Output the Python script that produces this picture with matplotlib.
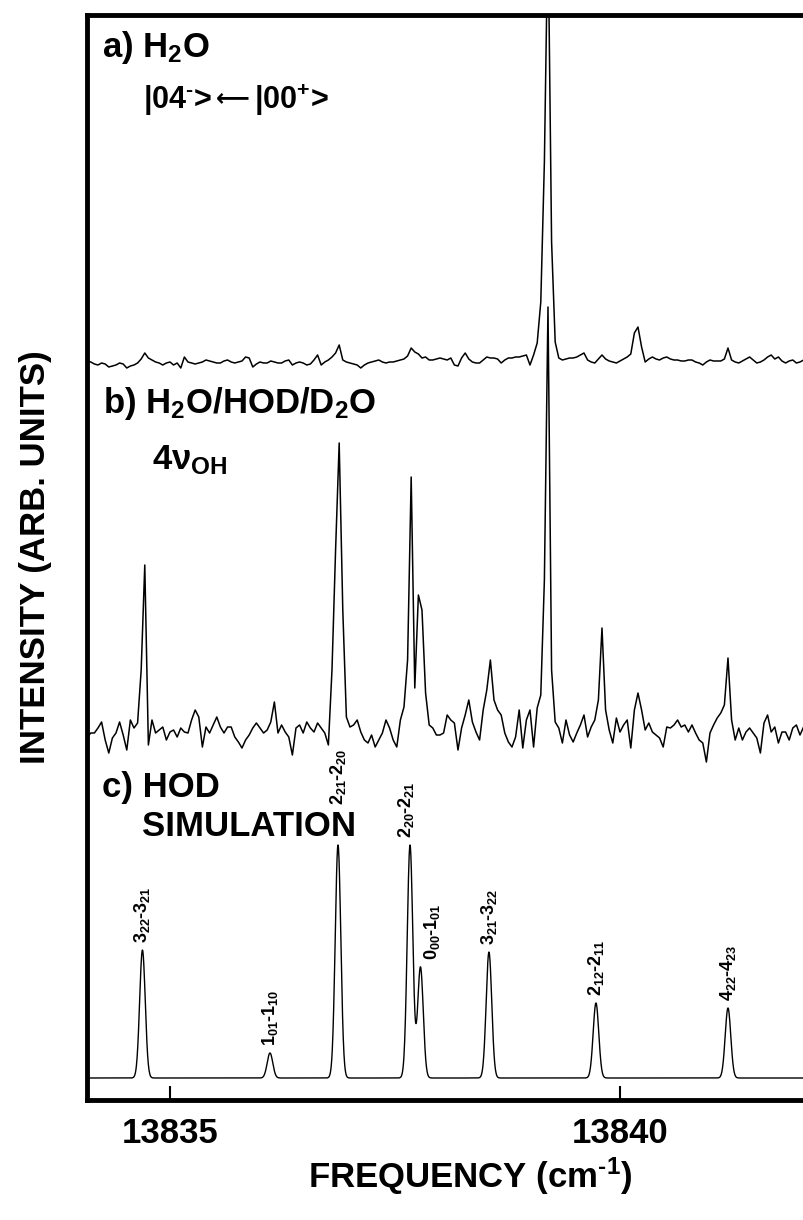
import numpy as np
import matplotlib.pyplot as plt

plt.rcParams['font.family'] = ['Liberation Sans', 'DejaVu Sans']
plt.rcParams['font.weight'] = 'bold'
plt.rcParams['mathtext.fontset'] = 'custom'
plt.rcParams['mathtext.rm'] = 'Liberation Sans:bold'
plt.rcParams['mathtext.it'] = 'Liberation Sans:bold'
plt.rcParams['mathtext.bf'] = 'Liberation Sans:bold'

# scan grid of the recorded spectra (cm-1)
scan_start = 13834.08
scan_step = 0.04

# a) pure H2O, |04-> <- |00+> band (arb. units above baseline)
h2o_signal = [
    1, 0, -2, -3, -1, -2, -5, -4, -3, -1, -2, -6, -4, -3, -1, 3, 9, 4, 2, 0,
    -1, -3, -1, 0, -3, -1, -6, 5, 0, -1, -2, -1, 0, 2, 1, 0, -1, -1, 1, 2,
    0, -1, 0, 1, 5, 4, -5, -2, 0, -1, -1, 1, 0, -1, -1, 1, 2, -3, -1, 0,
    -1, -3, -2, 2, 7, -3, 0, 2, 5, 9, 17, 2, 0, -1, -2, -3, -6, -3, -1, 0,
    1, 2, 0, -1, 0, 0, 1, 2, 3, 6, 14, 10, 8, 4, 5, 2, 2, 3, 4, 3,
    2, 4, -3, -4, 4, 9, 3, 0, -1, -1, 2, 5, 4, 4, 3, -1, 2, 4, 4, 5,
    5, 6, 7, -3, 7, 19, 60, 200, 440, 120, 20, 4, 2, 3, 4, 4, 5, 7, 9, 2,
    0, -1, 3, 7, 3, 1, 0, -1, 1, 3, 5, 8, 29, 35, 15, 0, 3, 5, 3, 2,
    4, 5, 3, 2, 2, 1, 1, 2, 2, 0, -1, -3, 0, 2, 1, 1, 1, 3, 14, 2,
    0, -1, 1, 3, 5, 2, -1, 0, 2, 5, 7, 3, 5, 1, -1, 1, 2, -1, 0, 2,
]

# b) H2O/HOD/D2O mixture, 4 nu_OH region
mix_signal = [
    -7, -3, -3, 2, 8, -10, -23, -8, -3, 8, -5, -20, 10, 2, 7, 60, 165, -15, 10, -3,
    0, 3, -10, -2, 0, -7, 2, -2, -3, 10, 20, 13, -17, 3, -3, 5, 13, 3, -3, 3,
    3, -7, -12, -18, -10, -5, 2, 7, 2, -3, 0, 8, 28, -3, 5, -2, -7, -25, 2, 5,
    -3, 8, 2, -2, 7, 2, -3, -15, 60, 180, 287, 120, 13, 3, 5, 10, -2, -10, -13, -5,
    -17, -10, -3, 10, 2, -10, -17, 10, 23, 70, 253, 42, 135, 120, 37, 5, 2, -5, -5, -3,
    15, 10, 7, -20, 2, 15, 30, 8, -2, -10, 20, 40, 70, 30, 20, 15, -3, -12, -17, -7,
    20, -18, 10, 20, -17, 22, 35, 150, 423, 60, 8, 2, -13, 10, -5, -12, -3, 5, 15, -7,
    3, 10, 30, 102, 20, 0, -13, 12, -2, 5, 10, -18, 20, 37, 20, 0, 7, -2, -5, -8,
    -17, 3, 2, 5, 10, 3, 5, -2, 5, -3, -10, -13, -32, -3, 5, 12, 17, 25, 72, 10,
    -10, 2, -10, -2, 2, -3, -8, -23, 7, 15, -2, 3, -13, -2, -2, -10, 2, 5, -5, 3,
]

# c) HOD simulation: line centres (cm-1), peak heights, assignments
hod_centres = [13834.694, 13836.111, 13836.867, 13837.667, 13837.783,
               13838.544, 13839.733, 13841.200]
hod_heights = [128, 25, 233, 233, 111, 126, 75, 70]
hod_labels = [r'3$_{22}$-3$_{21}$', r'1$_{01}$-1$_{10}$', r'2$_{21}$-2$_{20}$',
              r'2$_{20}$-2$_{21}$', r'0$_{00}$-1$_{01}$', r'3$_{21}$-3$_{22}$',
              r'2$_{12}$-2$_{11}$', r'4$_{22}$-4$_{23}$']
hod_sigma = 0.031

freq_a = scan_start + scan_step * np.arange(len(h2o_signal))
freq_b = scan_start + scan_step * np.arange(len(mix_signal))

sim_x = np.linspace(scan_start, 13842.04, 3000)
sim_y = np.zeros_like(sim_x)
for c, h in zip(hod_centres, hod_heights):
    sim_y += h * np.exp(-0.5 * ((sim_x - c) / hod_sigma) ** 2)

# vertical offsets of the three stacked traces
off_a, off_b, off_c = 738, 370, 22

fig = plt.figure(figsize=(8.04, 12.2), dpi=100)
ax = fig.add_axes([87 / 804, 120 / 1220, 766 / 804, 1085 / 1220])

ax.plot(freq_a, off_a + np.array(h2o_signal), color='black', lw=1.1)
ax.plot(freq_b, off_b + np.array(mix_signal), color='black', lw=1.1)
ax.plot(sim_x, off_c + sim_y, color='black', lw=1.0)

# assignment labels above the simulated lines (x nudge, extra lift)
nudge = {2: (0.0, 33), 3: (-0.045, 0), 4: (0.13, 0)}
for k, (c, lab) in enumerate(zip(hod_centres, hod_labels)):
    top = off_c + sim_y[np.argmin(np.abs(sim_x - c))]
    dx, dy = nudge.get(k, (0.0, 0))
    ax.text(c + dx, top + 7 + dy, lab, rotation=90, ha='center',
            va='bottom', fontsize=13, fontweight='bold')

big = 25
ax.text(13834.244, 1052, r'a) H$_2$O', fontsize=big, fontweight='bold', va='center')
# |04-> <-- |00+> written in three pieces so the long arrow can come from DejaVu
ax.text(13834.70, 1000, r'|04$^{\text{-}}$>', fontsize=22, fontweight='bold',
        va='center')
ax.text(13835.51, 1002, '\u27f5', fontsize=17, fontweight='bold', va='center',
        family='DejaVu Sans')
ax.text(13835.93, 1000, r'|00$^{+}$>', fontsize=22, fontweight='bold',
        va='center')
ax.text(13834.256, 697, r'b) H$_2$O/HOD/D$_2$O', fontsize=big, fontweight='bold',
        va='center')
ax.text(13834.80, 640, '4\u03bd$_{OH}$', fontsize=big, fontweight='bold', va='center')
ax.text(13834.244, 313, 'c) HOD', fontsize=big, fontweight='bold', va='center')
ax.text(13834.69, 273, 'SIMULATION', fontsize=big, fontweight='bold', va='center')

ax.set_xlim(13834.078, 13842.589)
ax.set_ylim(0, 1085)
ax.set_xticks([13835, 13840])
ax.set_xticklabels(['13835', '13840'])
ax.set_yticks([])
ax.tick_params(axis='x', direction='in', length=10, width=1.5, labelsize=25, pad=12)
for lab in ax.get_xticklabels():
    lab.set_fontweight('bold')

for side in ['left', 'top', 'bottom']:
    ax.spines[side].set_linewidth(3.5)
ax.spines['right'].set_visible(False)

ax.set_xlabel(r'FREQUENCY (cm$^{\text{-1}}$)', fontsize=25, fontweight='bold',
              labelpad=4)
ax.set_ylabel('INTENSITY (ARB. UNITS)', fontsize=25, fontweight='bold')
ax.yaxis.set_label_coords(-0.046, 0.5)

plt.savefig('out.png', dpi=100)
